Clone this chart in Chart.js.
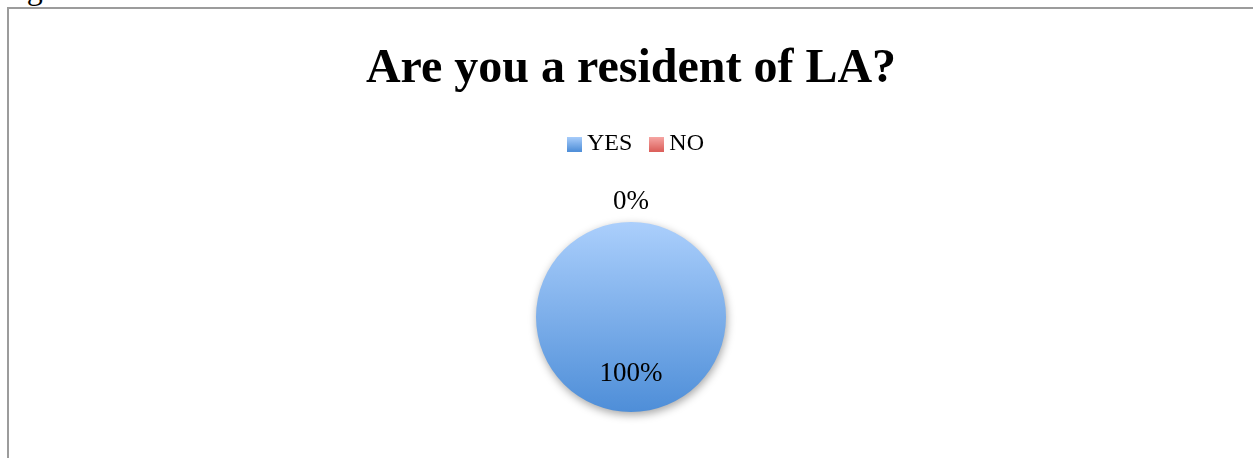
<!DOCTYPE html>
<html>
<head>
<meta charset="utf-8">
<script src="https://cdn.jsdelivr.net/npm/chart.js@4/dist/chart.umd.min.js"></script>
<style>
  html, body { margin: 0; padding: 0; background: #fff; overflow: hidden; }
  body { width: 1253px; height: 458px; position: relative; }
  #caption {
    position: absolute; left: 0; top: -26px;
    font: 32px/29px "Liberation Serif", "Times New Roman", serif; color: #000;
    white-space: nowrap;
  }
  #frame {
    position: absolute; left: 7px; top: 7px; width: 1300px; height: 480px;
    border-left: 2px solid #9c9c9c; border-top: 2px solid #9c9c9c;
  }
  #chart { position: absolute; left: 9px; top: 9px; }
</style>
</head>
<body>
<div id="caption">Figure 11</div>
<div id="frame"></div>
<canvas id="chart" width="1244" height="459"></canvas>
<script>
// survey answers, share of respondents in percent
const categories = ['YES', 'NO'];
const shares = [100, 0];

// light-to-dark fill for each answer
const topColors = ['#abcffc', '#f7a8a5'];
const bottomColors = ['#4e8ed8', '#db5f5a'];

const pieRadius = 95;
const serif = '"Liberation Serif", "Times New Roman", serif';

// small gradient square used as the legend marker
function swatch(i) {
    const c = document.createElement('canvas');
    c.width = 15;
    c.height = 15;
    const g = c.getContext('2d');
    const grad = g.createLinearGradient(0, 0, 0, 15);
    grad.addColorStop(0, topColors[i]);
    grad.addColorStop(1, bottomColors[i]);
    g.fillStyle = grad;
    g.fillRect(0, 0, 15, 15);
    return c;
}

function sliceFill(context) {
    const area = context.chart.chartArea;
    if (!area) return bottomColors[context.dataIndex];
    const cy = (area.top + area.bottom) / 2;
    const grad = context.chart.ctx.createLinearGradient(0, cy - pieRadius, 0, cy + pieRadius);
    grad.addColorStop(0, topColors[context.dataIndex]);
    grad.addColorStop(1, bottomColors[context.dataIndex]);
    return grad;
}

// the legend row sits a little right of centre
const legendNudge = {
    id: 'legendNudge',
    afterLayout(chart) {
        chart.legend.left += 8;
        chart.legend.right += 8;
    }
};

// soft drop shadow under the pie
const pieShadow = {
    id: 'pieShadow',
    beforeDatasetsDraw(chart) {
        const ctx = chart.ctx;
        ctx.save();
        ctx.shadowColor = 'rgba(0, 0, 0, 0.35)';
        ctx.shadowBlur = 9;
        ctx.shadowOffsetX = 1;
        ctx.shadowOffsetY = 3;
    },
    afterDatasetsDraw(chart) {
        chart.ctx.restore();
    }
};

// percentage labels: inside for real slices, just outside for empty ones
const sliceLabels = {
    id: 'sliceLabels',
    afterDatasetsDraw(chart) {
        const ctx = chart.ctx;
        const meta = chart.getDatasetMeta(0);
        ctx.save();
        ctx.font = '27px ' + serif;
        ctx.fillStyle = '#000';
        ctx.textAlign = 'center';
        ctx.textBaseline = 'middle';
        meta.data.forEach((arc, i) => {
            const p = arc.getProps(['x', 'y', 'startAngle', 'endAngle', 'outerRadius']);
            const mid = (p.startAngle + p.endAngle) / 2;
            const dist = shares[i] > 0 ? p.outerRadius * 0.58 : p.outerRadius + 22;
            ctx.fillText(shares[i] + '%', p.x + Math.cos(mid) * dist, p.y + Math.sin(mid) * dist + 2);
        });
        ctx.restore();
    }
};

new Chart(document.getElementById('chart'), {
    type: 'pie',
    data: {
        labels: categories,
        datasets: [{
            data: shares,
            backgroundColor: sliceFill,
            borderWidth: 0,
            radius: pieRadius
        }]
    },
    options: {
        responsive: false,
        animation: false,
        layout: { padding: 0 },
        plugins: {
            title: {
                display: true,
                text: 'Are you a resident of LA?',
                color: '#000',
                font: { family: serif, size: 48, weight: 'bold', lineHeight: 1.2 },
                padding: { top: 32, bottom: 9.4 }
            },
            legend: {
                position: 'top',
                labels: {
                    color: '#000',
                    font: { family: serif, size: 24 },
                    usePointStyle: true,
                    pointStyleWidth: 1,
                    padding: 24,
                    generateLabels: () => categories.map((label, i) => ({
                        text: label,
                        pointStyle: swatch(i),
                        fillStyle: bottomColors[i],
                        strokeStyle: 'rgba(0,0,0,0)',
                        lineWidth: 0,
                        hidden: false,
                        index: i,
                        fontColor: '#000'
                    }))
                }
            },
            tooltip: { enabled: false }
        }
    },
    plugins: [legendNudge, pieShadow, sliceLabels]
});
</script>
</body>
</html>
